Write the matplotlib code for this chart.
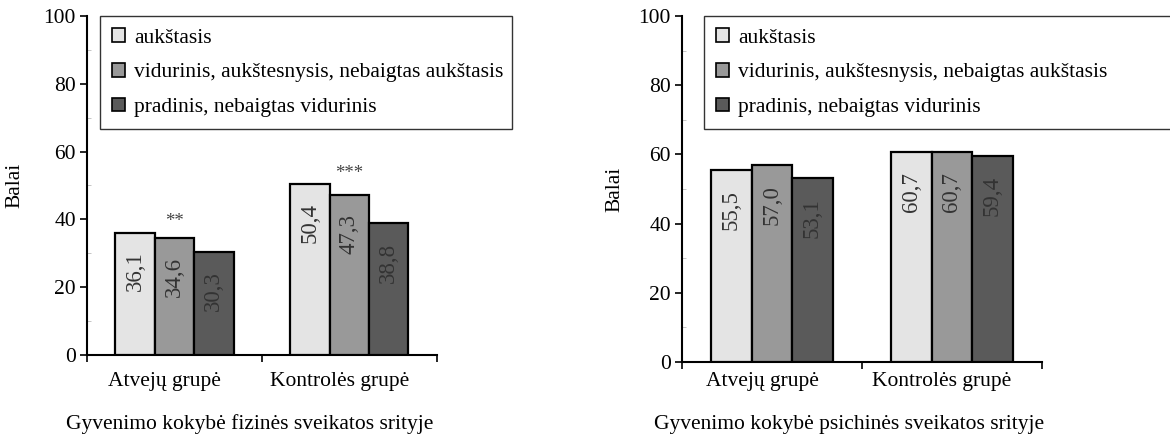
import matplotlib.pyplot as plt
from matplotlib.ticker import MultipleLocator, FixedLocator, NullFormatter
from matplotlib.transforms import ScaledTranslation

plt.rcParams['font.family'] = ['Liberation Serif', 'DejaVu Serif']

groups = ['Atvejų grupė', 'Kontrolės grupė']
series = ['aukštasis', 'vidurinis, aukštesnysis, nebaigtas aukštasis',
          'pradinis, nebaigtas vidurinis']
colors = ['#e4e4e4', '#999999', '#5a5a5a']

physical = [[36.1, 50.4], [34.6, 47.3], [30.3, 38.8]]
mental = [[55.5, 60.7], [57.0, 60.7], [53.1, 59.4]]
physical_sig = ['**', '***']
mental_sig = ['', '']

titles = ['Gyvenimo kokybė fizinės sveikatos srityje',
          'Gyvenimo kokybė psichinės sveikatos srityje']


def draw_panel(fig, ax, data, sig, title, legend_box, ylabel_x, xlabel_y, cat_pad):
    width = 0.225
    xs = range(len(groups))
    for i, vals in enumerate(data):
        pos = [x + (i - 1) * width for x in xs]
        ax.bar(pos, vals, width, color=colors[i], edgecolor='black',
               linewidth=1.6, label=series[i], zorder=3)
        for p, v in zip(pos, vals):
            txt = ('%.1f' % v).replace('.', ',')
            ax.text(p, v - 11.5, txt, rotation=90, ha='center', va='center',
                    fontsize=16.5, color='#333333', zorder=4)
    for x in xs:
        if sig[x]:
            top = max(d[x] for d in data)
            ax.text(x, top + 3.2, sig[x], ha='center', va='center',
                    fontsize=13.5, color='#444444')

    ax.set_xlim(-0.5, 1.5)
    ax.set_ylim(0, 100)
    ax.spines['top'].set_visible(False)
    ax.spines['right'].set_visible(False)
    ax.spines['left'].set_linewidth(1.5)
    ax.spines['bottom'].set_linewidth(1.5)

    ax.yaxis.set_major_locator(MultipleLocator(20))
    ax.yaxis.set_minor_locator(MultipleLocator(10))
    ax.tick_params(axis='y', which='major', labelsize=15.5, length=5, width=1.2, pad=3)
    ax.tick_params(axis='y', which='minor', direction='in', length=3, width=0.6,
                   color='#bbbbbb')

    ax.xaxis.set_major_locator(FixedLocator([-0.5, 0.5, 1.5]))
    ax.xaxis.set_major_formatter(NullFormatter())
    ax.xaxis.set_minor_locator(FixedLocator([0, 1]))
    ax.set_xticklabels(groups, minor=True)
    ax.tick_params(axis='x', which='major', length=5, width=1.2)
    ax.tick_params(axis='x', which='minor', length=0, labelsize=15.5, pad=cat_pad)
    shift = ScaledTranslation(-10 / 100, 0, fig.dpi_scale_trans)
    for lab in ax.xaxis.get_minorticklabels():
        lab.set_transform(lab.get_transform() + shift)

    ax.set_ylabel('Balai', fontsize=15.5)
    ax.yaxis.set_label_coords(ylabel_x, 0.5)
    ax.set_xlabel(title, fontsize=15.5)
    ax.xaxis.set_label_coords(0.465, xlabel_y)

    leg = ax.legend(loc='upper left', bbox_to_anchor=legend_box, mode='expand',
                    borderaxespad=0, fontsize=15.5, frameon=True, fancybox=False,
                    handlelength=0.6, handleheight=0.6, handletextpad=0.4,
                    labelspacing=0.71, borderpad=0.57)
    leg.get_frame().set_edgecolor('black')
    leg.get_frame().set_linewidth(1.0)
    for h in leg.legend_handles:
        h.set_linewidth(1.2)


fig = plt.figure(figsize=(11.7, 4.36), dpi=100)
ax1 = fig.add_axes([0.0744, 0.1858, 0.299, 0.7775])
ax2 = fig.add_axes([0.5829, 0.1697, 0.3077, 0.7936])

draw_panel(fig, ax1, physical, physical_sig, titles[0], (0.037, 0, 1.177, 1.0),
           -0.18, -0.175, 12)
draw_panel(fig, ax2, mental, mental_sig, titles[1], (0.061, 0, 1.34, 1.0),
           -0.16, -0.152, 7)

fig.savefig('out.png', dpi=100)
